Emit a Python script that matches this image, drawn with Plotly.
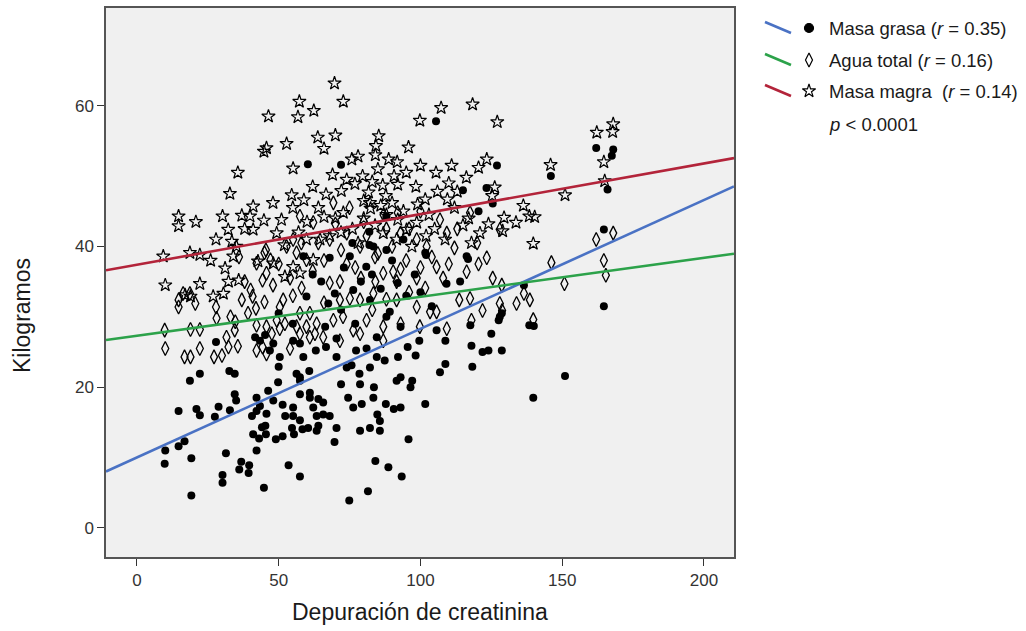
import plotly.graph_objects as go

# ---------------- data ----------------
grasa_x = [105.5,60.3,72,127,115,123.3,120.5,125.5,82,88,82,102,116.3,
           146,162,168,167.5,166,164.7,
           164.7,151,139.8,138.4,140,128.7,128,136.5,
           116.8,109.2,114,117.6,105.7,108.8,118,125,127.6,128.7,121.9,124,118.3,108.8,106.9,101.7,98.3,99.6,97.1,96.5,93,91.6,93,90.6,87.8,84.8,85.7,83.6,87.4,84.6,92.1,81,77.3,74,75.7,78.5,82.2,78.7,72,70.4,66.7,63.1,58.7,60.8,57.5,61,64,65.7,62.2,65.7,68,74.5,76.3,79.3,83.4,63.4,70.4,78.7,82.2,85.7,95.8,69.8,76.3,59.8,67.5,88,89.2,93,
           84.1,88.7,93.4,81.5,74.9,69.7,64,
           14.7,21,22.2,28.8,27.5,32.8,10,9.8,14.7,16.8,19.2,19.2,31.4,30.2,30.2,36.8,39.6,36.1,39.4,44.8,42.2,41,43.1,44.1,45.3,40.6,42.2,43.4,45.7,49,51.4,53.5,57.5,51.4,52.3,55.1,54.7,55.4,58.4,57.5,63.4,
           18.7,22.2,27.9,32.6,34.5,34.5,35,41.7,43.4,45.2,48.1,46.9,50.4,50,55.1,57.5,49.8,46.3,48.1,42.2,45.5,55.1,57.5,57.5,61,60.4,56.3,
           101.7,82.9,80.9,82.2,66.4,77,70.4,84.6,95.5,
           58.7,75.1,83.4,68,
           50,55,72,86,95,104,98,62,90,
           76,88,94,79,92,100,65,73]
grasa_y = [57.8,51.7,51.6,51.5,48,48.3,45,46.1,42.1,44.3,40.2,38.8,38.6,
           50.0,54.0,53.8,52.9,48.1,42.4,
           31.5,21.6,18.5,28.8,28.7,25.2,30.0,34.5,
           38.2,34.7,35,28.8,28.1,26.6,25.9,27.6,29.5,30.5,25.0,25.2,22.9,23.3,22.1,17.6,24.5,26.6,20.9,20.0,21.4,20.9,17.1,16.9,17.6,16.1,15.2,20.0,23.8,24.3,24.3,25.5,25.2,22.8,23.1,21.9,22.8,20.4,20.4,24.3,25.7,25.2,24.3,22.3,21.4,19.2,18.3,17.8,17.1,16.1,15.9,18.5,17.1,17.6,18.5,13.8,14.2,13.8,14.2,13.8,12.6,33.3,33.8,32.9,31.9,30.0,30.7,28.6,
           9.5,8.6,7.3,5.2,3.9,12.2,14.5,
           16.6,16.9,16.0,17.2,15.8,16.7,11.0,9.1,11.6,12.3,9.9,4.6,10.6,7.5,6.4,9.4,8.9,8.3,7.8,5.7,11.0,13.3,12.7,14.3,14.5,15.9,16.6,17.3,16.2,12.6,13.0,8.9,7.3,17.5,15.9,15.9,14.2,13.3,14.0,15.3,15.9,
           20.9,21.9,26.4,22.3,21.9,19.0,18.1,27.1,26.6,27.4,26.2,25.2,24.3,22.9,26.6,26.2,20.7,19.5,18.1,18.5,13.3,17.1,19.0,20.9,18.5,14.2,21.9,
           39.1,36.0,37.1,32.4,28.6,29.0,26.9,27.1,25.7,
           38.6,38.6,40.0,38.4,
           30.5,29,31,34,33,31.5,36,36,38,
           40.5,39.5,41,35,34.8,33.5,35,37]

agua_x = [9.8,10,14.7,14.7,16.3,18.7,20.6,18.9,22.2,22.2,16.8,18.9,27.2,30,32.3,35.6,31.6,34.5,28.1,33,27.9,34.7,37,39.2,40.8,40.1,42,45,44.3,45.7,45,47.1,42.2,50.4,51.6,49.3,42.2,45.7,47.6,50.4,52.2,42.2,44.3,45.7,54,57.5,56.3,59.8,61,62.8,58.1,57.5,52.8,56.3,59.8,
          57.5,62.2,45.5,55.1,
          105.7,98.7,101.7,120.5,123.4,125.5,128.7,116.3,113.7,117.5,121.9,118,109.3,128,133.9,105.7,103.4,98.7,91.6,91.6,90.4,86.9,84.1,83.4,78.7,75.1,71.6,71.6,68,61,63.4,69.3,72.7,76.3,81,86.9,93,99.8,65.7,71.6,78.7,86.9,
          146.2,164.7,165.4,150.8,138.6,136.5,128.8,139.8,
          162,168,
          69.3,106.9,128,117.5,74,78.7,93,98.7,109.3,102.2,
          66,72,77,85,88,95,80,64,92,100,96,108,112,83,88,66,54,50,38,36,
          62,68,74,79,84,90,96,104,110,81,70,87,93,58,75,100,113,120,55,48]
agua_y = [28.1,25.5,31.4,32.4,33.3,33.3,31.9,28.2,28.2,25.5,24.3,24.3,24.3,24.5,25.7,25.8,27.1,28.1,29.8,30.0,31.4,29.3,32.4,30.5,32.9,33.8,31.2,32.1,35.2,36.2,39.1,38.1,37.6,31.4,32.4,29.5,28.8,28.6,27.6,28.3,29.0,25.2,25.7,24.7,25.5,27.6,28.6,28.6,27.1,27.6,34.1,30.5,40.0,39.1,38.1,
          44.3,43.4,39.5,41.0,
          37.1,35.5,34.1,37.5,38.4,35.5,34.5,36.4,32.4,32.6,30.9,29.5,28.3,31.9,31.9,30.7,30.7,31.4,32.4,35.0,36.4,36.2,35.0,33.3,32.4,32.6,32.4,35.0,34.8,30.5,29.0,29.5,30.0,28.1,29.5,28.6,29.0,28.6,27.1,26.6,27.6,26.6,
          37.7,38.0,35.9,34.7,32.4,33.3,30.9,29.6,
          41.0,41.9,
          46.2,43.8,42.4,44.8,41.9,40.0,41.9,41.0,41.9,40.0,
          38,39.5,37,39,42.5,38,43.5,40.5,44.8,37,33.5,35.5,39.8,31,32.5,32,35.5,37.5,35,38.5,
          36.5,41,37.5,35.5,38.5,40,42.5,38.5,37.5,41.5,43.2,44.5,36.8,40.5,45.5,45,42.5,40.5,33,34.5]

magra_x = [57.3,46.4,56.8,62.4,63.8,45.7,44.8,52.8,55.1,35.6,32.8,54.6,58.9,55,41,14.7,14.7,20.8,30.2,37,32.2,27.9,33.5,39.9,41,44.8,51,49.3,9.3,18.7,22.2,59.8,
           10,22.2,17,18.9,26.9,30.5,32.3,35.9,31.1,34,35.1,42.7,48.1,52.2,55.1,57.5,62.2,
           69.7,72.8,107.3,118.4,99.8,127.1,66,85.3,84.3,84.1,95.8,75.8,88.8,91.8,90.7,105.5,123.4,120.5,116.2,79.6,76.9,72.1,66.7,81.7,86.7,87.8,82.2,82.4,90,98.4,101.7,109.5,126.2,125.3,72.8,121,133.7,129.5,118,108.7,98.7,95.1,64.6,86.9,91.6,
           168,167.8,162.2,164.7,145.9,165,151,136.3,138.4,140.3,129,139.8,
           70,76,80,94,103,112,115,60,68,84,97,105,78,88,113,92,69,100,110,48,52,26,38,
           64,72,80,86,92,99,106,74,83,95,62,57,66,102,117,124,111,85,78,70]
magra_y = [60.6,58.5,58.4,59.3,55.5,54.0,53.5,54.6,51.1,50.5,47.5,47.3,46.6,45.5,45.7,44.3,42.9,43.5,44.3,44.4,42.4,41.0,40.7,44.3,42.4,43.7,43.8,41.9,38.6,39.1,38.8,41.0,
           34.5,34.7,33.1,32.9,32.9,33.3,35.0,35.2,36.9,38.6,40.0,37.9,37.6,35.7,37.1,36.2,38.1,
           63.2,60.6,59.7,60.2,57.9,57.7,53.9,55.7,54.3,53.0,54.1,52.4,52.4,52.0,50.0,50.5,52.4,51.2,49.8,50.0,48.9,47.9,47.4,47.7,48.7,47.2,46.2,45.4,46.2,48.5,46.7,46.7,48.4,47.2,44.8,41.9,43.4,44.1,40.5,41.0,43.4,42.4,41.0,41.9,41.0,
           57.4,56.3,56.2,52.0,51.6,49.3,47.3,45.8,44.3,44.2,42.2,40.4,
           44,42.5,44,45,44.5,45.5,43,43.5,41.5,43,40,42.5,40.5,44.5,47.8,48.8,50.2,51.5,49,46.2,40.2,38,42.5,
           45.5,42,46.5,45.8,43.8,46,47.8,49.5,49.2,50.5,48.5,42,44.2,41.5,44,43.2,51.5,51,52.8,55.8]

# regression lines: intercept at x=0 and slope
fit_names = ["Masa grasa", "Agua total", "Masa magra"]
fit_intercepts = [10.0, 27.3, 37.4]
fit_slopes = [0.183, 0.0554, 0.072]
fit_colors = ["#4a72c4", "#2ca24a", "#b3243a"]

legend_labels = ["Masa grasa (<i>r</i> = 0.35)", "Agua total (<i>r</i> = 0.16)",
                 "Masa magra  (<i>r</i> = 0.14)"]
p_label = "<i>p</i> < 0.0001"
x_title = "Depuración de creatinina"
y_title = "Kilogramos"

x_range = [-10.9, 210.6]
y_range = [-4.15, 73.9]
x_ticks = [0, 50, 100, 150, 200]
y_ticks = [0, 20, 40, 60]

# ---------------- layout geometry (pixels) ----------------
W, H = 1026, 631
L, R, T, B = 106, 734, 8, 557          # plot frame
FONT = "Liberation Sans, Arial, sans-serif"

fig = go.Figure()

fig.add_trace(go.Scatter(x=grasa_x, y=grasa_y, mode="markers",
                         marker=dict(symbol="circle", size=8, color="black"),
                         showlegend=False, hoverinfo="x+y"))
fig.add_trace(go.Scatter(x=agua_x, y=agua_y, mode="markers",
                         marker=dict(symbol="diamond-tall-open", size=10, color="black",
                                     line=dict(width=1.3, color="black")),
                         showlegend=False, hoverinfo="x+y"))
fig.add_trace(go.Scatter(x=magra_x, y=magra_y, mode="markers",
                         marker=dict(symbol="star-open", size=10, color="black",
                                     line=dict(width=1.2, color="black")),
                         showlegend=False, hoverinfo="x+y"))

for name, b0, b1, col in zip(fit_names, fit_intercepts, fit_slopes, fit_colors):
    xs = [x_range[0], x_range[1]]
    ys = [b0 + b1 * v for v in xs]
    fig.add_trace(go.Scatter(x=xs, y=ys, mode="lines", name=name,
                             line=dict(color=col, width=2.6), showlegend=False))

# legend drawn in a helper axis on the right (pixel coordinates)
leg_rows = [28, 60, 91]
leg_symbols = ["circle", "diamond-tall-open", "star-open"]
leg_sizes = [9, 10, 10]
for row, col, sym, sz, lab in zip(leg_rows, fit_colors, leg_symbols, leg_sizes, legend_labels):
    fig.add_trace(go.Scatter(x=[765, 791], y=[row - 6, row + 5], mode="lines",
                             line=dict(color=col, width=2.6), xaxis="x2", yaxis="y2",
                             showlegend=False, hoverinfo="skip"))
    fig.add_trace(go.Scatter(x=[809], y=[row], mode="markers", xaxis="x2", yaxis="y2",
                             marker=dict(symbol=sym, size=sz, color="black",
                                         line=dict(width=1.2, color="black")),
                             showlegend=False, hoverinfo="skip"))
    fig.add_annotation(x=827, y=row, xref="x2", yref="y2", text=lab, showarrow=False,
                       xanchor="left", yanchor="middle",
                       font=dict(family=FONT, size=18.5, color="#1a1a1a"))
fig.add_annotation(x=827, y=124, xref="x2", yref="y2", text=p_label, showarrow=False,
                   xanchor="left", yanchor="middle",
                   font=dict(family=FONT, size=18.5, color="#1a1a1a"))

# axis titles
pw, ph = W - L, B - T
fig.add_annotation(x=0.5, xref="x domain", y=(B - 612) / ph, yref="paper",
                   text=x_title, showarrow=False, xanchor="center", yanchor="middle",
                   font=dict(family=FONT, size=23, color="#1a1a1a"))
fig.add_annotation(x=(22 - L) / pw, xref="paper", y=(B - 316) / ph, yref="paper",
                   text=y_title, showarrow=False, textangle=-90,
                   xanchor="center", yanchor="middle",
                   font=dict(family=FONT, size=23, color="#1a1a1a"))

# grey plotting panel
fig.add_shape(type="rect", xref="x domain", yref="y domain", x0=0, x1=1, y0=0, y1=1,
              fillcolor="#f0f0f0", line=dict(width=0), layer="below")

axis_font = dict(family=FONT, size=17, color="#333")
fig.update_layout(
    width=W, height=H,
    margin=dict(l=L, r=0, t=T, b=H - B, pad=0, autoexpand=False),
    paper_bgcolor="white",
    plot_bgcolor="white",
    font=dict(family=FONT, color="#222"),
    hovermode=False,
    xaxis=dict(domain=[0, (R - L) / pw], range=x_range, tickvals=x_ticks,
               showgrid=False, zeroline=False, showline=True, mirror=True,
               linecolor="#555", linewidth=1.5, ticks="outside", ticklen=7,
               tickcolor="#333", tickwidth=1.3, tickfont=axis_font, automargin=False),
    yaxis=dict(range=y_range, tickvals=y_ticks, showgrid=False, zeroline=False,
               showline=True, mirror=True, linecolor="#555", linewidth=1.5,
               ticks="outside", ticklen=7, tickcolor="#333", tickwidth=1.3,
               tickfont=axis_font, automargin=False),
    xaxis2=dict(domain=[(R - L) / pw, 1], range=[R, W], visible=False, fixedrange=True),
    yaxis2=dict(domain=[0, 1], range=[B, T], visible=False, fixedrange=True, anchor="x2"),
)

fig.write_html("out.html", config={"displayModeBar": False},
               post_script="document.body.style.margin='0px';document.body.style.overflow='hidden';")
